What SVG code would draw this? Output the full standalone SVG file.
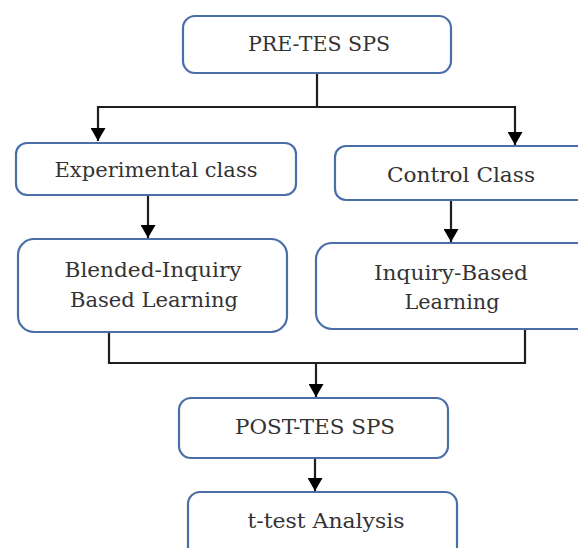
<svg xmlns="http://www.w3.org/2000/svg" width="578" height="548" viewBox="0 0 578 548">
<style>
.box{fill:#ffffff;stroke:#4a6ea8;stroke-width:2.2}
.lbl{font-family:"DejaVu Serif","Liberation Serif",serif;font-size:20px;fill:#333333;text-anchor:middle}
.con{fill:none;stroke:#1e1e1e;stroke-width:2.2}
</style>
<defs>
<marker id="arr" markerUnits="userSpaceOnUse" markerWidth="13" markerHeight="15" refX="13" refY="7.5" orient="auto" viewBox="0 0 13 15">
<path d="M0,0 L13,7.5 L0,15 z" fill="#000000"/>
</marker>
</defs>
<rect width="578" height="548" fill="#ffffff"/>
<g id="connectors">
<path class="con" d="M317,73 V107"/>
<path class="con" d="M97,107 H516"/>
<path class="con" d="M98,106 V141" marker-end="url(#arr)"/>
<path class="con" d="M515,106 V145" marker-end="url(#arr)"/>
<path class="con" d="M148,195 V238" marker-end="url(#arr)"/>
<path class="con" d="M451,200 V242" marker-end="url(#arr)"/>
<path class="con" d="M109,332 V363 H525 V329"/>
<path class="con" d="M316,363 V397" marker-end="url(#arr)"/>
<path class="con" d="M315,458 V491" marker-end="url(#arr)"/>
</g>
<g id="pre">
<rect class="box" x="183" y="16" width="268" height="57" rx="12"/>
<text class="lbl" x="319" y="51" textLength="142" lengthAdjust="spacingAndGlyphs">PRE-TES SPS</text>
</g>
<g id="experimental">
<rect class="box" x="16" y="143" width="280" height="52" rx="11"/>
<text class="lbl" x="156" y="177" textLength="203" lengthAdjust="spacingAndGlyphs">Experimental class</text>
</g>
<g id="control">
<rect class="box" x="335" y="146" width="258" height="54" rx="11"/>
<text class="lbl" x="461" y="182" textLength="148" lengthAdjust="spacingAndGlyphs">Control Class</text>
</g>
<g id="blended">
<rect class="box" x="18" y="239" width="269" height="93" rx="16"/>
<text class="lbl" x="153" y="277" textLength="177" lengthAdjust="spacingAndGlyphs">Blended-Inquiry</text>
<text class="lbl" x="154" y="307" textLength="168" lengthAdjust="spacingAndGlyphs">Based Learning</text>
</g>
<g id="inquiry">
<rect class="box" x="316" y="243" width="278" height="86" rx="16"/>
<text class="lbl" x="451" y="280" textLength="154" lengthAdjust="spacingAndGlyphs">Inquiry-Based</text>
<text class="lbl" x="452" y="309" textLength="95" lengthAdjust="spacingAndGlyphs">Learning</text>
</g>
<g id="post">
<rect class="box" x="179" y="398" width="269" height="60" rx="12"/>
<text class="lbl" x="315" y="434" textLength="160" lengthAdjust="spacingAndGlyphs">POST-TES SPS</text>
</g>
<g id="ttest">
<rect class="box" x="188" y="492" width="269" height="70" rx="12"/>
<text class="lbl" x="326" y="528" textLength="157" lengthAdjust="spacingAndGlyphs">t-test Analysis</text>
</g>
</svg>
